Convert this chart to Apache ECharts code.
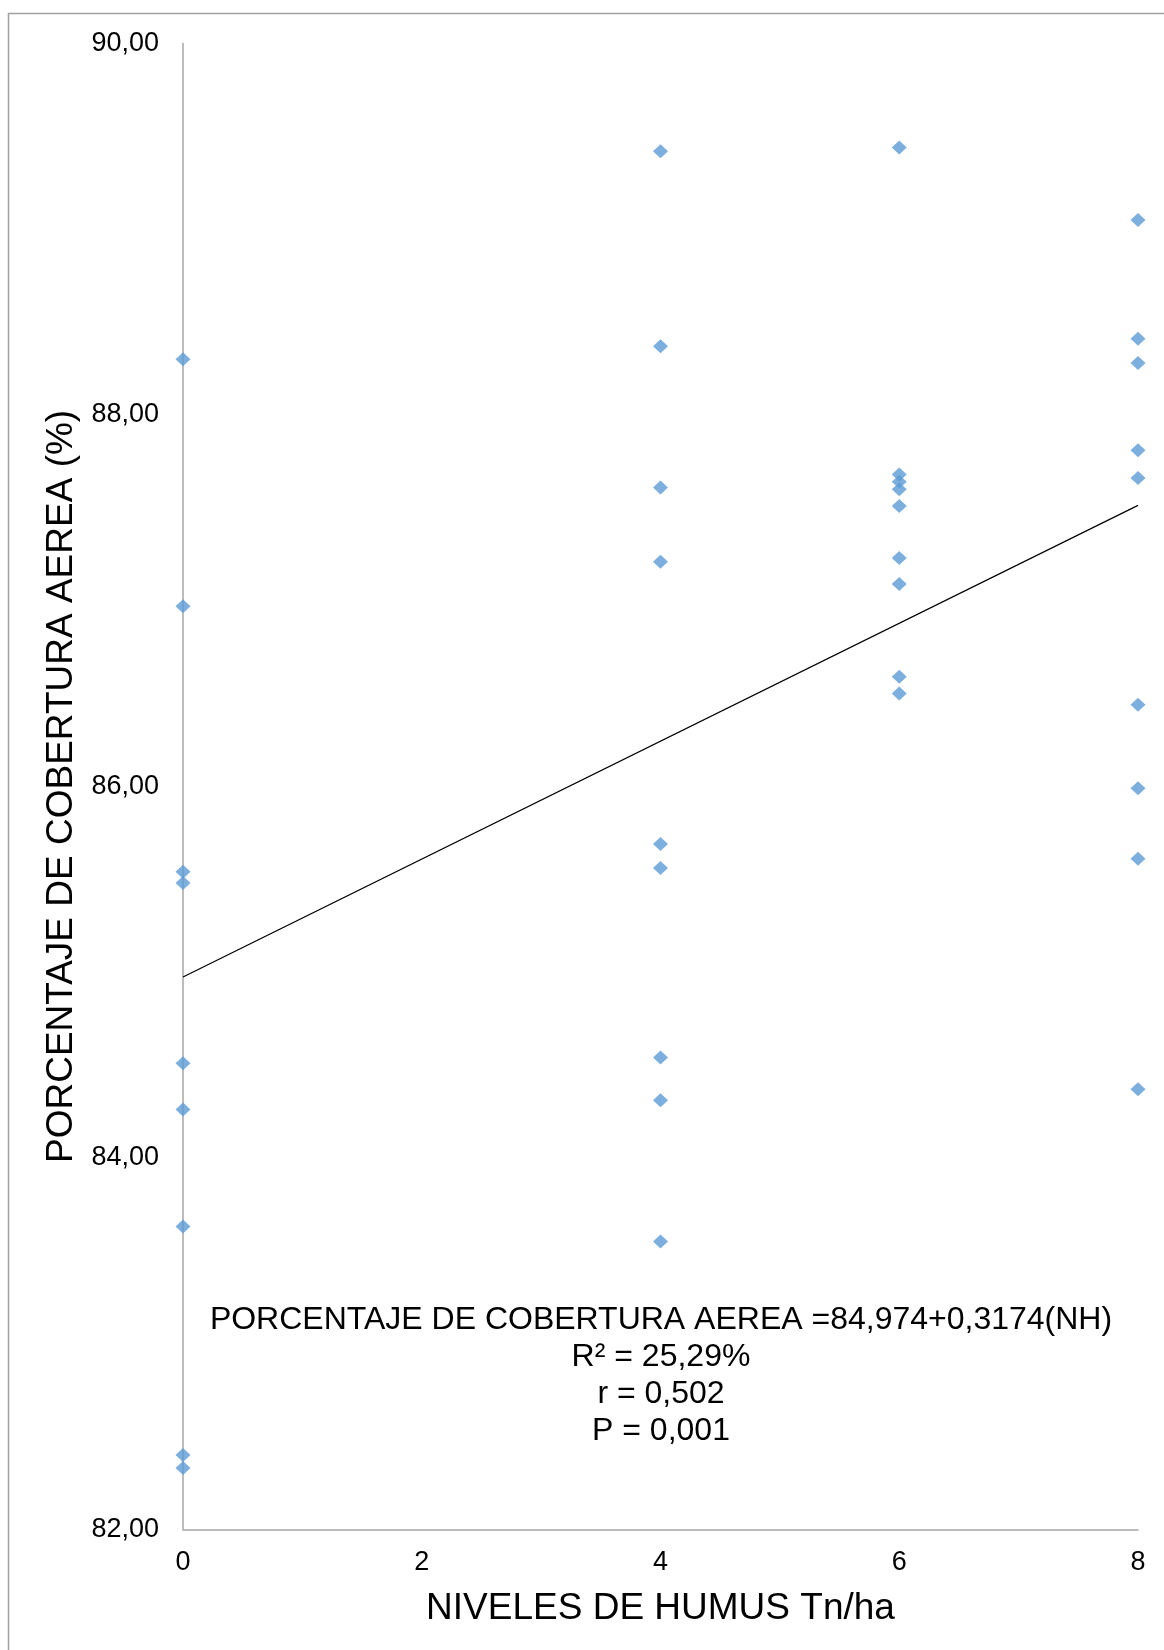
<!DOCTYPE html>
<html>
<head>
<meta charset="utf-8">
<script src="https://cdn.jsdelivr.net/npm/echarts@6/dist/echarts.min.js"></script>
<style>
  html, body { margin: 0; padding: 0; background: #ffffff; }
  #chart { width: 1164px; height: 1650px; }
</style>
</head>
<body>
<div id="chart"></div>
<script>
// Humus levels (Tn/ha) and aerial coverage (%) per plot
const nivelesHumus = [0, 4, 6, 8];
const coberturaNH0 = [88.30, 86.97, 85.54, 85.48, 84.51, 84.26, 83.63, 82.40, 82.33];
const coberturaNH4 = [89.42, 88.37, 87.61, 87.21, 85.69, 85.56, 84.54, 84.31, 83.55];
const coberturaNH6 = [89.44, 87.68, 87.64, 87.60, 87.51, 87.23, 87.09, 86.59, 86.50];
const coberturaNH8 = [89.05, 88.41, 88.28, 87.81, 87.66, 86.44, 85.99, 85.61, 84.37];

// Fitted regression: cobertura = intercepto + pendiente * NH
const intercepto = 84.974;
const pendiente = 0.3174;
const rangoNH = [0, 8];

// Axis ticks
const xTicks = [0, 2, 4, 6, 8];
const yTicks = [82, 84, 86, 88, 90];

const statsLines = [
  'PORCENTAJE DE COBERTURA AEREA =84,974+0,3174(NH)',
  'R² = 25,29%',
  'r = 0,502',
  'P = 0,001'
];

const grupos = [coberturaNH0, coberturaNH4, coberturaNH6, coberturaNH8];
const puntos = [];
grupos.forEach((vals, i) => {
  vals.forEach(v => puntos.push([nivelesHumus[i], v]));
});
const tendencia = rangoNH.map(x => [x, intercepto + pendiente * x]);

const FONT = '"Liberation Sans", Arial, sans-serif';
const chart = echarts.init(document.getElementById('chart'), null, { renderer: 'canvas' });

chart.setOption({
  backgroundColor: '#ffffff',
  animation: false,
  grid: { left: 183, right: 26, top: 43.5, bottom: 120.7, containLabel: false },
  xAxis: {
    type: 'value',
    min: xTicks[0],
    max: xTicks[xTicks.length - 1],
    interval: xTicks[1] - xTicks[0],
    name: 'NIVELES DE HUMUS Tn/ha',
    nameLocation: 'middle',
    nameGap: 61,
    nameTextStyle: { fontFamily: FONT, fontSize: 37, color: '#000000' },
    axisLine: { show: true, onZero: false, lineStyle: { color: '#a6a6a6', width: 1.5 } },
    axisTick: { show: false },
    splitLine: { show: false },
    axisLabel: { fontFamily: FONT, fontSize: 27, color: '#000000', margin: 20 }
  },
  yAxis: {
    type: 'value',
    min: yTicks[0],
    max: yTicks[yTicks.length - 1],
    interval: yTicks[1] - yTicks[0],
    name: 'PORCENTAJE DE COBERTURA AEREA (%)',
    nameLocation: 'middle',
    nameGap: 90,
    nameRotate: 90,
    nameTextStyle: { fontFamily: FONT, fontSize: 37, color: '#000000' },
    axisLine: { show: true, onZero: false, lineStyle: { color: '#a6a6a6', width: 1.5 } },
    axisTick: { show: false },
    splitLine: { show: false },
    axisLabel: {
      fontFamily: FONT, fontSize: 27, color: '#000000', margin: 24,
      formatter: v => v.toFixed(2).replace('.', ',')
    }
  },
  series: [
    {
      type: 'line',
      data: tendencia,
      showSymbol: false,
      symbol: 'none',
      lineStyle: { color: '#000000', width: 1.2 },
      z: 2
    },
    {
      type: 'scatter',
      data: puntos,
      symbol: 'diamond',
      symbolSize: [15, 14],
      itemStyle: { color: '#5b9bd5' },
      z: 3
    }
  ],
  graphic: [
    {
      type: 'rect',
      silent: true,
      shape: { x: 8.5, y: 13.5, width: 1400, height: 1800 },
      style: { fill: 'none', stroke: '#a0a0a0', lineWidth: 1.5 }
    },
    {
      type: 'text',
      silent: true,
      x: 661,
      y: 1302,
      style: {
        text: statsLines.join('\n'),
        fontFamily: FONT,
        fontSize: 32,
        lineHeight: 36.8,
        fill: '#000000',
        textAlign: 'center',
        textVerticalAlign: 'top'
      }
    }
  ]
});
</script>
</body>
</html>
